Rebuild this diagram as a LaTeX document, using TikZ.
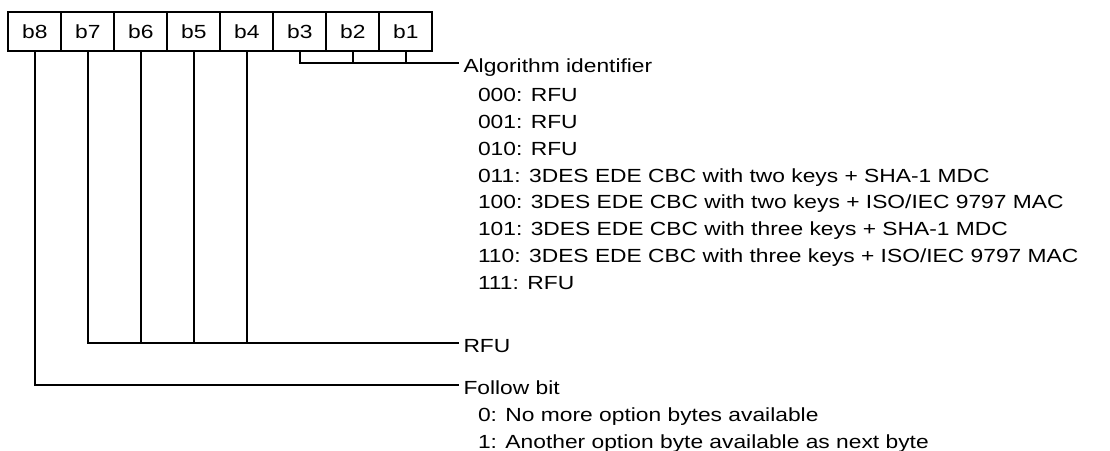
\documentclass[tikz,border=0pt]{standalone}
\usepackage{fontspec}
\setmainfont[FakeStretch=1.2]{Liberation Sans}
\usepackage{tikz}
\usetikzlibrary{positioning}

\begin{document}
\begin{tikzpicture}
[
	x = 1pt, y = -1pt,
	bit/.style	= {rectangle, draw = black, minimum width = 53pt, minimum height = 38.4pt, inner sep = 0pt, outer sep = 0pt},
	desc/.style	= {anchor = west, inner xsep = 4pt, inner ysep = 0pt, text height = 19pt, text depth = 0pt},
	codes/.style	= {anchor = north west, inner sep = 0pt, align = left},
	every node/.style = {font = \fontsize{19}{26.8}\selectfont},
	node distance = 0pt,
	line width = 2pt,
]
	\useasboundingbox (0,0) rectangle (1110,450);

	\node (b8) [bit] at (34.8,31.5) {b8};
	\node (b7) [bit, right = of b8] {b7};
	\node (b6) [bit, right = of b7] {b6};
	\node (b5) [bit, right = of b6] {b5};
	\node (b4) [bit, right = of b5] {b4};
	\node (b3) [bit, right = of b4] {b3};
	\node (b2) [bit, right = of b3] {b2};
	\node (b1) [bit, right = of b2] {b1};
	%
	\node (alg) [desc] at (458.5,62.7) {Algorithm identifier};
	\node (algcodes) [codes] at (477,87.5) {000: RFU\\001: RFU\\010: RFU\\011: 3DES EDE CBC with two keys + SHA-1 MDC\\100: 3DES EDE CBC with two keys + ISO/IEC 9797 MAC\\101: 3DES EDE CBC with three keys + SHA-1 MDC\\110: 3DES EDE CBC with three keys + ISO/IEC 9797 MAC\\111: RFU};
	\node (rfu) [desc] at (458.5,342.7) {RFU};
	\node (follow) [desc] at (458.5,384.5) {Follow bit};
	\node (followcodes) [codes] at (477,406.5) {0: No more option bytes available\\1: Another option byte available as next byte};

	\draw (b3.south) |- (alg.west);
	\draw (b2.south) -- (b2.south |- alg.west);
	\draw (b1.south) -- (b1.south |- alg.west);
	%
	\draw (b7.south) |- (rfu.west);
	\draw (b6.south) -- (b6.south |- rfu.west);
	\draw (b5.south) -- (b5.south |- rfu.west);
	\draw (b4.south) -- (b4.south |- rfu.west);
	%
	\draw (b8.south) |- (follow.west);

\end{tikzpicture}
\end{document}
